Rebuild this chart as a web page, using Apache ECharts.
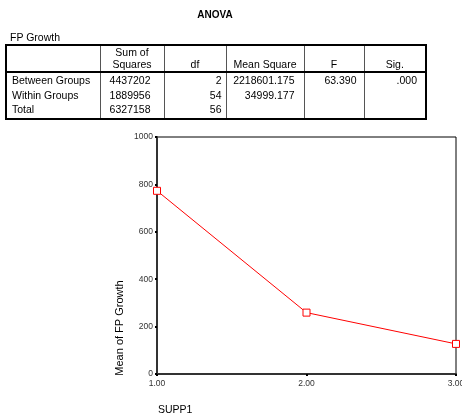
<!DOCTYPE html>
<html>
<head>
<meta charset="utf-8">
<script src="https://cdn.jsdelivr.net/npm/echarts@6/dist/echarts.min.js"></script>
<style>
  html, body { margin: 0; padding: 0; background: #fff; }
  #wrap { position: relative; width: 462px; height: 417px; overflow: hidden; font-family: "Liberation Sans", Arial, sans-serif; }
  #chart { position: absolute; left: 0; top: 0; width: 462px; height: 417px; }
  #title { position: absolute; left: 5px; width: 420px; top: 9px; text-align: center; font-weight: bold; font-size: 10px; color: #000; }
  #subtitle { position: absolute; left: 10px; top: 31px; font-size: 10.5px; color: #000; }
  #anova { position: absolute; left: 5px; top: 44px; border-collapse: collapse; table-layout: fixed; font-size: 10.5px; color: #000; }
  #anova td { padding: 0; white-space: nowrap; border-left: 1px solid #555; border-right: 1px solid #555; line-height: 12px; box-sizing: border-box; }
  #anova tr.head td { height: 27px; vertical-align: bottom; text-align: center; border-bottom: 2px solid #000; border-top: 2px solid #000; padding-bottom: 1px; }
  #anova tr.r td { height: 15px; vertical-align: middle; }
  #anova tr.last td { height: 17px; border-bottom: 2px solid #000; padding-bottom: 2px; }
  #anova td.first { border-left: 2px solid #000; text-align: left; padding-left: 5px; }
  #anova td.lastc { border-right: 2px solid #000; }
</style>
</head>
<body>
<div id="wrap">
  <div id="chart"></div>
  <div id="title"></div>
  <div id="subtitle"></div>
  <table id="anova"></table>
</div>
<script>
// ---- table data ----
const tableTitle = "ANOVA";
const dependentName = "FP Growth";
const tableHeaders = ["", "Sum of<br>Squares", "df", "Mean Square", "F", "Sig."];
const rowLabels = ["Between Groups", "Within Groups", "Total"];
const sumSquares = ["4437202", "1889956", "6327158"];
const dfValues = ["2", "54", "56"];
const meanSquares = ["2218601.175", "34999.177", ""];
const fValues = ["63.390", "", ""];
const sigValues = [".000", "", ""];

// ---- chart data ----
const groupValues = [1, 2, 3];
const meanGrowth = [773, 259, 127];
const xAxisTitle = "SUPP1";
const yAxisTitle = "Mean of FP Growth";

// ---- build table ----
const colWidths = [94, 64, 62, 78, 60, 62];
const rightPad = [0, 13, 4, 9, 7, 8];
document.getElementById('title').textContent = tableTitle;
document.getElementById('subtitle').textContent = dependentName;
const tbl = document.getElementById('anova');
let html = '<colgroup>' + colWidths.map(w => '<col style="width:' + w + 'px">').join('') + '</colgroup>';
html += '<tr class="head">' + tableHeaders.map((h, i) =>
  '<td class="' + (i === 0 ? 'first' : '') + (i === 5 ? ' lastc' : '') + '">' + h + '</td>').join('') + '</tr>';
rowLabels.forEach((lab, r) => {
  const vals = [lab, sumSquares[r], dfValues[r], meanSquares[r], fValues[r], sigValues[r]];
  html += '<tr class="r' + (r === rowLabels.length - 1 ? ' last' : '') + '">' + vals.map((v, i) => {
    if (i === 0) return '<td class="first">' + v + '</td>';
    return '<td class="' + (i === 5 ? 'lastc' : '') + '" style="text-align:right;padding-right:' + rightPad[i] + 'px">' + v + '</td>';
  }).join('') + '</tr>';
});
tbl.innerHTML = html;

// ---- chart ----
const chart = echarts.init(document.getElementById('chart'), null, { renderer: 'canvas' });
const font = '"Liberation Sans", Arial, sans-serif';
chart.setOption({
  animation: false,
  grid: { left: 157, right: 6, top: 137, bottom: 43, show: true, borderColor: '#000', borderWidth: 1,
          backgroundColor: 'transparent', containLabel: false, outerBoundsMode: 'none' },
  xAxis: {
    type: 'value', min: 1, max: 3, interval: 1,
    axisLine: { show: true, lineStyle: { color: '#333', width: 2 } },
    axisTick: { show: true, length: 2, lineStyle: { color: '#000', width: 2 } },
    axisLabel: { formatter: v => v.toFixed(2), fontSize: 8.5, color: '#333', margin: 5, fontFamily: font },
    splitLine: { show: false }
  },
  yAxis: {
    type: 'value', min: 0, max: 1000, interval: 200,
    axisLine: { show: true, lineStyle: { color: '#333', width: 2 } },
    axisTick: { show: true, length: 2, lineStyle: { color: '#000', width: 2 } },
    axisLabel: { formatter: v => String(v), fontSize: 8.5, color: '#333', margin: 4, fontFamily: font },
    splitLine: { show: false }
  },
  graphic: [
    { type: 'text', x: 120, y: 328, rotation: Math.PI / 2,
      style: { text: yAxisTitle, fontSize: 11, fill: '#000', fontFamily: font, align: 'center', verticalAlign: 'middle' } },
    { type: 'text', x: 158, y: 410,
      style: { text: xAxisTitle, fontSize: 10.5, fill: '#000', fontFamily: font, align: 'left', verticalAlign: 'middle' } }
  ],
  series: [{
    type: 'line',
    data: groupValues.map((g, i) => [g, meanGrowth[i]]),
    symbol: 'rect', symbolSize: 7,
    lineStyle: { color: '#ff0000', width: 1 },
    itemStyle: { color: '#ffffff', borderColor: '#ff0000', borderWidth: 1, opacity: 1 },
    emphasis: { disabled: true },
    clip: false
  }]
});
</script>
</body>
</html>
